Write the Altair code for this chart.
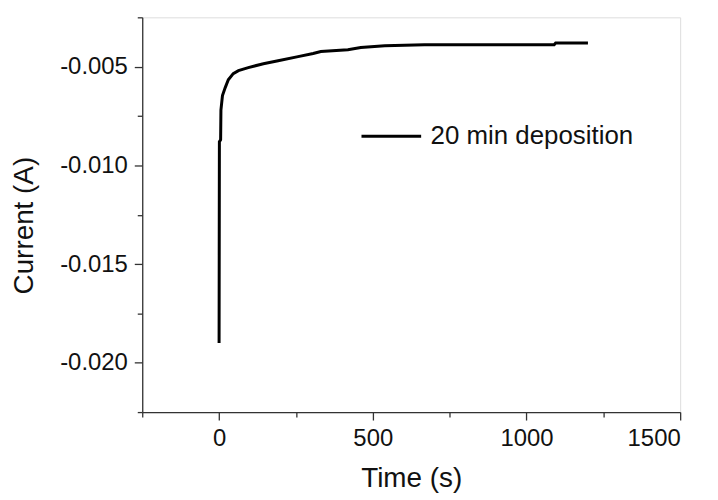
import altair as alt
import pandas as pd

# data
time_s = [0, 1, 5, 6, 11, 20, 30, 46, 63, 95, 144, 192, 257, 306, 331, 419, 461, 539, 668, 1090, 1095, 1200]
current_a = [-0.0190, -0.0088, -0.0087, -0.0072, -0.00646, -0.00606, -0.00566, -0.00535, -0.00520,
             -0.00505, -0.00485, -0.00470, -0.00449, -0.00433, -0.00423, -0.00414, -0.00403,
             -0.00394, -0.00389, -0.00389, -0.00380, -0.00380]
series_name = "20 min deposition"

x_major = [0, 500, 1000, 1500]
x_minor = [-250, 250, 750, 1250]
y_major = [-0.020, -0.015, -0.010, -0.005]
y_minor = [-0.0225, -0.0175, -0.0125, -0.0075, -0.0025]

df = pd.DataFrame({"t": time_s, "i": current_a, "series": [series_name] * len(time_s),
                   "idx": list(range(len(time_s)))})

AX = "#333333"
FONT = "Liberation Sans"

xscale = alt.Scale(domain=[-250, 1500], nice=False, zero=False)
yscale = alt.Scale(domain=[-0.0225, -0.0025], nice=False, zero=False)

main = alt.Chart(df).mark_line(strokeWidth=3, strokeJoin="miter").encode(
    x=alt.X("t:Q", scale=xscale, axis=alt.Axis(
        orient="bottom", values=x_major, format="d", title="Time (s)",
        tickSize=8, tickWidth=1.3, tickColor=AX, domainColor=AX, domainWidth=1.3,
        labelFontSize=24, labelPadding=7, labelFont=FONT, labelColor="#111",
        titleFont=FONT, titleFontSize=28, titleFontWeight="normal", titleColor="#111",
        titleBaseline="alphabetic", titleY=75, grid=False)),
    y=alt.Y("i:Q", scale=yscale, axis=alt.Axis(
        orient="left", values=y_major, title="Current (A)",
        labelExpr="datum.value < 0 ? '-' + format(-datum.value, '.3f') : format(datum.value, '.3f')",
        tickSize=8, tickWidth=1.3, tickColor=AX, domainColor=AX, domainWidth=1.3,
        labelFontSize=24, labelPadding=7, labelFont=FONT, labelColor="#111",
        titleFont=FONT, titleFontSize=28, titleFontWeight="normal", titleColor="#111",
        titleAngle=270, titleBaseline="alphabetic", titleX=-110, titleY=209, grid=False)),
    color=alt.Color("series:N", scale=alt.Scale(range=["#000000"]), legend=alt.Legend(
        orient="none", legendX=219, legendY=88, title=None, symbolType="stroke",
        symbolSize=3600, symbolStrokeWidth=3, labelFontSize=26, labelFont=FONT,
        labelColor="#111", labelOffset=8, labelLimit=0, padding=0)),
    order=alt.Order("idx:Q"),
)

minor = alt.Chart(df).mark_line(strokeOpacity=0).encode(
    x=alt.X("t:Q", scale=xscale, axis=alt.Axis(
        orient="bottom", values=x_minor, labels=False, title=None, tickSize=5,
        tickWidth=1.3, tickColor=AX, domain=False, grid=False)),
    y=alt.Y("i:Q", scale=yscale, axis=alt.Axis(
        orient="left", values=y_minor, labels=False, title=None, tickSize=5,
        tickWidth=1.3, tickColor=AX, domain=False, grid=False)),
    order=alt.Order("idx:Q"),
)

chart = alt.layer(main, minor).resolve_axis(x="independent", y="independent").properties(
    width=541, height=397,
    autosize=alt.AutoSizeParams(type="none"),
    padding={"left": 135, "top": 8, "right": 30, "bottom": 80},
).configure_view(stroke=AX, strokeWidth=1.3).configure(background="white")

chart.save("out.html", embed_options={"renderer": "svg", "actions": False})
